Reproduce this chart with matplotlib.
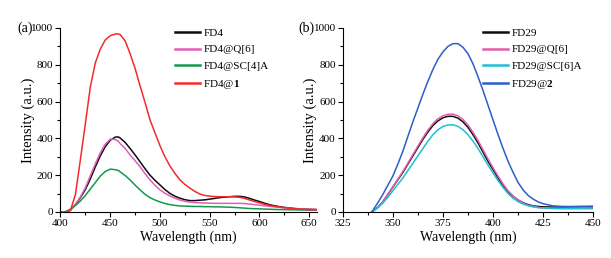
import matplotlib
matplotlib.use("Agg")
import matplotlib.pyplot as plt
from matplotlib.ticker import MultipleLocator

plt.rcParams['font.family'] = ['Liberation Serif', 'DejaVu Serif']
plt.rcParams['mathtext.fontset'] = 'custom'
plt.rcParams['mathtext.rm'] = 'Liberation Serif'
plt.rcParams['mathtext.bf'] = 'Liberation Serif:bold'

# ---------------- panel (a) data ----------------
wl_a = [400, 405, 410, 415, 420, 425, 430, 435, 440, 445, 450, 455, 458, 460, 465,
        470, 475, 480, 485, 490, 495, 500, 505, 510, 515, 520, 525, 530, 535, 540,
        545, 550, 555, 560, 565, 570, 575, 580, 585, 590, 595, 600, 605, 610, 615,
        620, 625, 630, 635, 640, 645, 650, 655, 658]
fd4 = [0, 0, 10, 40, 78, 122, 180, 245, 305, 355, 390, 407, 408, 402, 378,
       345, 310, 273, 235, 200, 172, 147, 122, 101, 86, 75, 67, 62, 62, 64,
       66, 70, 74, 78, 81, 83, 85, 85, 82, 74, 65, 57, 48, 40, 34,
       29, 25, 22, 19, 17, 16, 15, 14, 13]
fd4_q6 = [0, 0, 10, 42, 82, 132, 197, 262, 322, 368, 396, 394, 385, 372, 345,
          310, 278, 246, 208, 174, 145, 120, 102, 87, 75, 65, 58, 54, 51, 50,
          49, 48, 47, 47, 47, 47, 47, 47, 46, 43, 40, 37, 34, 31, 28,
          25, 22, 20, 18, 17, 16, 15, 14, 14]
fd4_sc4a = [0, 2, 15, 35, 60, 90, 125, 160, 195, 220, 233, 230, 226, 218, 198,
            174, 146, 120, 96, 78, 65, 55, 46, 40, 36, 33, 32, 31, 30, 30,
            29, 29, 28, 28, 27, 26, 25, 23, 21, 19, 18, 17, 16, 15, 14,
            13, 13, 12, 12, 11, 11, 10, 10, 10]
fd4_1 = [0, 0, 8, 95, 285, 480, 680, 810, 885, 935, 958, 967, 968, 964, 930,
         860, 780, 685, 595, 500, 430, 360, 300, 250, 210, 175, 150, 130, 112, 98,
         90, 86, 84, 83, 83, 83, 82, 80, 74, 65, 57, 50, 42, 36, 31,
         27, 24, 21, 18, 16, 14, 12, 11, 10]
labels_a = ['FD4', 'FD4@Q[6]', 'FD4@SC[4]A', r'FD4@$\mathbf{1}$']

# ---------------- panel (b) data ----------------
wl_b = [339.5, 342.5, 345, 347.5, 350, 352.5, 355, 357.5, 360, 362.5, 365, 367.5,
        370, 372.5, 375, 377.5, 380, 382.5, 385, 387.5, 390, 392.5, 395, 397.5,
        400, 402.5, 405, 407.5, 410, 412.5, 415, 417.5, 420, 422.5, 425, 430,
        435, 440, 445, 450]
fd29 = [0, 25, 55, 95, 135, 175, 215, 260, 305, 350, 395, 435,
        470, 495, 512, 520, 520, 510, 490, 460, 420, 375, 325, 275,
        230, 185, 145, 110, 85, 65, 50, 40, 33, 30, 28, 27,
        27, 28, 28, 27]
fd29_q6 = [0, 25, 55, 95, 135, 178, 220, 265, 312, 358, 403, 445,
           480, 507, 523, 531, 532, 523, 503, 473, 433, 388, 338, 288,
           240, 195, 152, 115, 87, 65, 48, 37, 30, 25, 22, 19,
           18, 18, 18, 18]
fd29_sc6a = [0, 22, 48, 80, 115, 150, 185, 225, 265, 305, 345, 385,
             420, 447, 465, 473, 474, 465, 447, 420, 385, 345, 300, 255,
             212, 170, 133, 100, 75, 56, 43, 34, 28, 24, 22, 20,
             20, 20, 21, 22]
fd29_2 = [0, 50, 95, 145, 195, 260, 330, 410, 490, 565, 640, 710,
          775, 830, 870, 900, 915, 915, 895, 860, 805, 735, 660, 580,
          500, 420, 345, 275, 215, 160, 120, 90, 70, 55, 45, 33,
          30, 30, 31, 32]
labels_b = ['FD29', 'FD29@Q[6]', 'FD29@SC[6]A', r'FD29@$\mathbf{2}$']

colors_a = ['#0d0d0d', '#e45cbc', '#14994a', '#f52a2a']
colors_b = ['#0d0d0d', '#e45cac', '#1cc0d6', '#2b5fc6']

fig = plt.figure(figsize=(6.11, 2.58), dpi=100)
ax1 = fig.add_axes([0.099, 0.1783, 0.4193, 0.7132])
ax2 = fig.add_axes([0.5609, 0.1783, 0.4101, 0.7132])

for ys, lab, c in zip([fd4, fd4_q6, fd4_sc4a, fd4_1], labels_a, colors_a):
    ax1.plot(wl_a, ys, color=c, lw=1.1, label=lab)
for ys, lab, c in zip([fd29, fd29_q6, fd29_sc6a, fd29_2], labels_b, colors_b):
    ax2.plot(wl_b, ys, color=c, lw=1.1, label=lab)

ax1.set_xlim(400, 657.5)
ax2.set_xlim(325, 450)
ax1.xaxis.set_major_locator(MultipleLocator(50))
ax1.xaxis.set_minor_locator(MultipleLocator(25))
ax2.xaxis.set_major_locator(MultipleLocator(25))
ax2.xaxis.set_minor_locator(MultipleLocator(12.5))

for ax, tag, hx in [(ax1, '(a)', 0.447), (ax2, '(b)', 0.56)]:
    ax.set_ylim(0, 1000)
    ax.yaxis.set_major_locator(MultipleLocator(200))
    ax.yaxis.set_minor_locator(MultipleLocator(100))
    ax.spines['top'].set_visible(False)
    ax.spines['right'].set_visible(False)
    for s in ['left', 'bottom']:
        ax.spines[s].set_linewidth(0.8)
    ax.tick_params(which='major', direction='out', length=3.5, width=0.8,
                   labelsize=8, pad=1.5)
    ax.tick_params(which='minor', direction='out', length=2, width=0.8)
    ax.set_xlabel('Wavelength (nm)', fontsize=10, labelpad=1.5)
    ax.set_ylabel('Intensity (a.u.)', fontsize=10.5, labelpad=-2.5)
    bw = ax.get_position().width * 611
    ax.text(-28.0 / bw, 1.0, tag, transform=ax.transAxes, fontsize=10,
            ha='right', va='center')
    leg = ax.legend(loc='upper left', bbox_to_anchor=(hx, 1.0), frameon=False,
                    fontsize=8, handlelength=2.25, handletextpad=0.3,
                    labelspacing=0.62, borderpad=0, borderaxespad=0)
    for ln in leg.get_lines():
        ln.set_linewidth(1.8)

fig.savefig('out.png', dpi=100)
